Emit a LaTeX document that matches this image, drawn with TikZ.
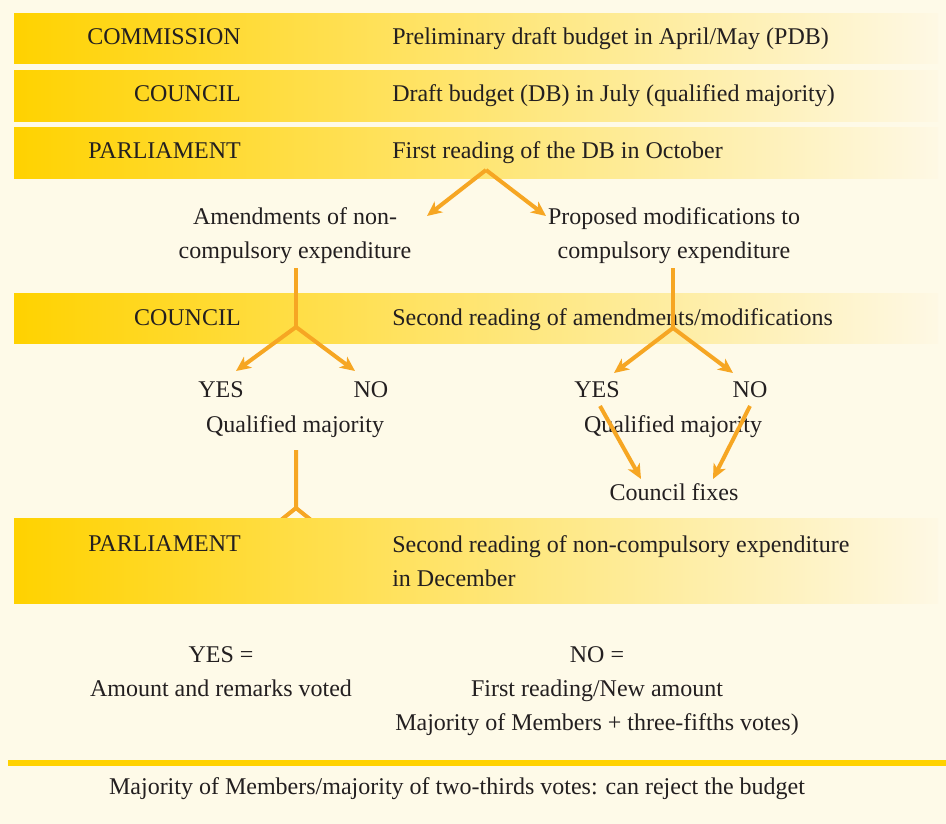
\documentclass[tikz,border=0pt]{standalone}
\usepackage{fontspec}
\setmainfont{Liberation Serif}
\usetikzlibrary{arrows.meta}
\definecolor{cream}{RGB}{254,250,232}
\definecolor{gold}{RGB}{255,210,0}
\definecolor{pale}{RGB}{254,248,228}
\definecolor{flowc}{RGB}{246,166,35}
\definecolor{ink}{RGB}{35,31,32}
\tikzset{%
  bar/.style    = {left color=gold, right color=pale, draw=none},%
  txt/.style    = {text=ink, inner sep=0pt,%
                   font=\fontsize{18}{25.5}\selectfont},%
  who/.style    = {txt, anchor=base east},%
  what/.style   = {txt, anchor=base west, align=left},%
  lbl/.style    = {txt, anchor=base, align=center},%
  flow/.style   = {draw=flowc, line width=3pt,%
                   -{Stealth[length=11pt,width=10pt,inset=3pt]}},%
  stem/.style   = {draw=flowc, line width=3pt}%
}
\begin{document}
\begin{tikzpicture}[x=0.75pt,y=-0.75pt]
	\fill[cream] (0,0) rectangle (946,824);
	\useasboundingbox (0,0) rectangle (946,824);
	% bars
	\shade[bar] (14,14) rectangle (938,64);
	\shade[bar] (14,71) rectangle (938,121);
	\shade[bar] (14,127) rectangle (938,178);
	\shade[bar] (14,293) rectangle (938,343);
	\node[who] (com) at (241,45) {COMMISSION};
	\node[what] (pdb) at (392,45) {Preliminary draft budget in April/May (PDB)};
	\node[who] (cou1) at (241,102) {COUNCIL};
	\node[what] (db) at (392,102) {Draft budget (DB) in July (qualified majority)};
	\node[who] (par1) at (241,158) {PARLIAMENT};
	\node[what] (first) at (392,158) {First reading of the DB in October};
	% multi-line nodes sit on their last baseline
	\node[lbl] (amend) at (295,258) {Amendments of non-\\compulsory expenditure};
	\node[lbl] (modif) at (674,258) {Proposed modifications to\\compulsory expenditure};
	\node[who] (cou2) at (241,325) {COUNCIL};
	\node[what] (second) at (392,325) {Second reading of amendments/modifications};
	\node[lbl] (yesA) at (221,397) {YES};
	\node[lbl] (noA) at (371,397) {NO};
	\node[lbl] (qmA) at (295,432) {Qualified majority};
	\node[lbl] (yesB) at (597,397) {YES};
	\node[lbl] (noB) at (750,397) {NO};
	\node[lbl] (qmB) at (673,432) {Qualified majority};
	\node[lbl] (fixes) at (674,500) {Council fixes};
	% connectors
	\coordinate (forkT) at (486,170);
	\coordinate (endTl) at (427,216);
	\coordinate (endTr) at (546,216);
	\draw[flow] (forkT) -- (endTl);
	\draw[flow] (forkT) -- (endTr);
	\coordinate (topA) at (296,268);
	\coordinate (forkA) at (296,327);
	\coordinate (endAl) at (236,371);
	\coordinate (endAr) at (355,371);
	\draw[stem] (topA) -- (forkA);
	\draw[flow] (forkA) -- (endAl);
	\draw[flow] (forkA) -- (endAr);
	\coordinate (topB) at (673,268);
	\coordinate (forkB) at (673,328);
	\coordinate (endBl) at (614,373);
	\coordinate (endBr) at (733,373);
	\draw[stem] (topB) -- (forkB);
	\draw[flow] (forkB) -- (endBl);
	\draw[flow] (forkB) -- (endBr);
	\coordinate (yesBs) at (600,406);
	\coordinate (noBs) at (750,406);
	\coordinate (fixl) at (641,479);
	\coordinate (fixr) at (713,479);
	\draw[flow] (yesBs) -- (fixl);
	\draw[flow] (noBs) -- (fixr);
	\coordinate (topC) at (296,450);
	\coordinate (forkC) at (296,508);
	\coordinate (endCl) at (276,524);
	\coordinate (endCr) at (316,524);
	\draw[stem] (topC) -- (forkC) -- (endCl);
	\draw[stem] (forkC) -- (endCr);
	\shade[bar] (14,518) rectangle (938,603);
	\node[who] (par2) at (241,551) {PARLIAMENT};
	\node[what] (decem) at (392,586) {Second reading of non-compulsory expenditure\\in December};
	% outcome
	\node[lbl] (yesR) at (221,696) {YES =\\Amount and remarks voted};
	\node[lbl] (noR) at (597,730) {NO =\\First reading/New amount\\Majority of Members + three-fifths votes)};
	\fill[gold] (8,760) rectangle (946,766);
	\node[lbl] (reject) at (457,794) {Majority of Members/majority of two-thirds votes: can reject the budget};
\end{tikzpicture}
\end{document}
